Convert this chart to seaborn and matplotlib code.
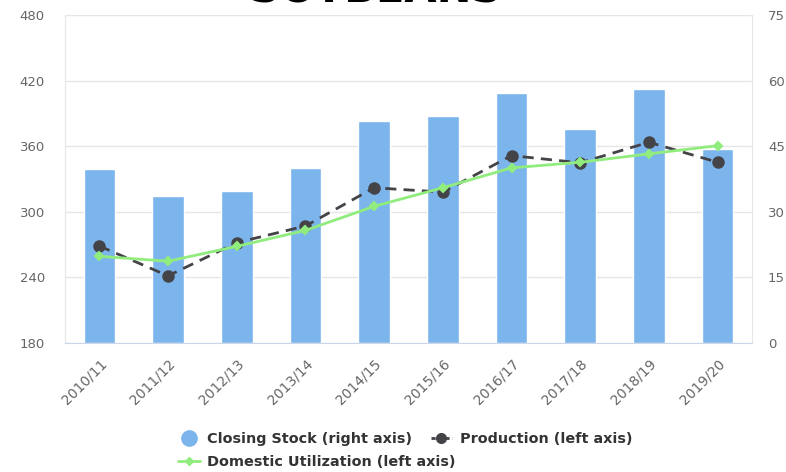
import matplotlib
matplotlib.use("Agg")
import matplotlib.pyplot as plt
import seaborn as sns
import numpy as np
import pandas as pd
from matplotlib.lines import Line2D

sns.set_style("white")
plt.rcParams['font.family'] = ['DejaVu Sans']

# ---------------- data ----------------
years = ["2010/11", "2011/12", "2012/13", "2013/14", "2014/15",
         "2015/16", "2016/17", "2017/18", "2018/19", "2019/20"]
closing_stock = [39.8, 33.6, 34.8, 40.0, 50.8, 51.9, 57.2, 48.9, 58.1, 44.4]
production = [268.7, 241.4, 271.8, 287.0, 322.0, 318.0, 351.4, 344.8, 363.6, 345.3]
domestic_util = [259.3, 254.8, 268.4, 283.0, 305.0, 322.0, 340.2, 345.3, 353.0, 360.5]
left_ticks = [180, 240, 300, 360, 420, 480]
right_ticks = [0, 15, 30, 45, 60, 75]

df = pd.DataFrame({"year": years, "stock": closing_stock,
                   "prod": production, "util": domestic_util})

BLUE = "#7cb5ec"
DARK = "#434348"
GREEN = "#90ed7d"
TICK_COL = "#666666"
AXIS_COL = "#ccd6eb"
GRID_COL = "#e6e6e6"

fig = plt.figure(figsize=(7.86, 4.72), dpi=100)
ax_bar = fig.add_axes([65/786, 1-343/472, (752-65)/786, (343-15)/472])

sns.barplot(data=df, x="year", y="stock", color=BLUE, width=0.46,
            saturation=1, ax=ax_bar, zorder=2)
ax_bar.set_ylim(0, 75)
ax_bar.set_yticks(right_ticks)
ax_bar.set_axisbelow(True)
ax_bar.grid(axis="y", color=GRID_COL, lw=1)
ax_bar.set_xlabel("")
ax_bar.set_ylabel("")

ax_line = ax_bar.twinx()
sns.pointplot(data=df, x="year", y="prod", color=DARK, markers="o",
              linestyles="--", markersize=7.5, linewidth=2, ax=ax_line)
sns.pointplot(data=df, x="year", y="util", color=GREEN, markers="D",
              markersize=4.5, linewidth=2, ax=ax_line)
for ln in ax_line.lines:
    if ln.get_linestyle() == "--":
        ln.set_dashes((4, 2.6))
ax_line.set_ylim(180, 480)
ax_line.set_yticks(left_ticks)
ax_line.yaxis.tick_left()
ax_bar.yaxis.tick_right()
ax_line.set_xlabel("")
ax_line.set_ylabel("")

for a in (ax_bar, ax_line):
    a.set_xlim(-0.5, len(years) - 0.5)
    for s in a.spines.values():
        s.set_visible(False)

ax_bar.spines["left"].set_visible(True)
ax_bar.spines["left"].set_color(GRID_COL)
ax_bar.spines["right"].set_visible(True)
ax_bar.spines["right"].set_color(GRID_COL)
ax_bar.spines["bottom"].set_visible(True)
ax_bar.spines["bottom"].set_color(AXIS_COL)

ax_bar.tick_params(axis="y", length=0, labelsize=9.5, labelcolor=TICK_COL,
                   pad=11.5, labelleft=False, labelright=True)
ax_line.tick_params(axis="y", length=0, labelsize=9.5, labelcolor=TICK_COL,
                    pad=14.4, labelleft=True, labelright=False)

ax_bar.set_xticks(range(len(years)))
ax_bar.set_xticklabels(years, rotation=45, ha="right", rotation_mode="anchor",
                       fontsize=10, color=TICK_COL)
ax_bar.set_xticks(np.arange(-0.5, len(years), 1.0), minor=True)
ax_bar.tick_params(axis="x", which="major", length=0, pad=10)
ax_bar.tick_params(axis="x", which="minor", length=10, color=AXIS_COL, width=1)
ax_line.tick_params(axis="x", which="both", length=0, labelbottom=False)

# partially visible title (cut off at top)
fig.text(0.478, 1 - 2.5/472, "SOYBEANS", ha="center", va="baseline",
         fontsize=30, fontweight="bold", color="black")

# legends
h_stock = Line2D([], [], marker="o", color=BLUE, ls="none", markersize=11)
h_prod = Line2D([], [], marker="o", color=DARK, ls="--", lw=2,
                markersize=7, dashes=(1.5, 1))
h_util = Line2D([], [], marker="D", color=GREEN, ls="-", lw=2, markersize=4.5)
leg_kw = dict(frameon=False, prop={"weight": "bold", "size": 10.4},
              labelcolor="#333333", handlelength=1.5, handletextpad=0.5,
              columnspacing=1.3, borderaxespad=0, borderpad=0)
leg1 = fig.legend([h_stock, h_prod],
                  ["Closing Stock (right axis)", "Production (left axis)"],
                  loc="center left", bbox_to_anchor=(178/786, 1-439/472),
                  ncol=2, **leg_kw)
leg2 = fig.legend([h_util], ["Domestic Utilization (left axis)"],
                  loc="center left", bbox_to_anchor=(178/786, 1-462/472),
                  **leg_kw)

fig.savefig("out.png", dpi=100)
